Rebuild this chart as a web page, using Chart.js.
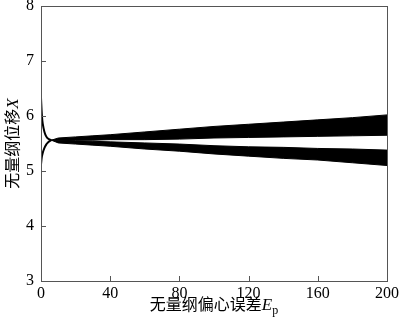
<!DOCTYPE html>
<html>
<head>
<meta charset="utf-8">
<script src="https://cdn.jsdelivr.net/npm/chart.js@4/dist/chart.umd.min.js"></script>
<style>
html,body{margin:0;padding:0;background:#fff;}
#wrap{width:400px;height:330px;}
</style>
</head>
<body>
<div id="wrap"><canvas id="c" width="400" height="330"></canvas></div>
<script>
// ---- data ----
const xTitleText = "无量纲偏心误差";
const xTitleVar = "E";
const xTitleSub = "p";
const yTitleText = "无量纲位移";
const yTitleVar = "X";

const xTicks = [0, 40, 80, 120, 160, 200];
const yTicks = [3, 4, 5, 6, 7, 8];

// initial transient branches near Ep = 0
const spikeX     = [0, 0.5, 1, 2, 3, 4, 6];
const spikeUpper = [6.33, 6.02, 5.86, 5.71, 5.63, 5.59, 5.56];
const spikeLower = [5.12, 5.26, 5.33, 5.42, 5.48, 5.52, 5.56];

// oscillation bands (outer envelope and inner gap edges)
const bandX       = [6, 10, 20, 30, 40, 60, 80, 100, 120, 140, 160, 180, 200];
const outerTop    = [5.56, 5.60, 5.62, 5.64, 5.66, 5.71, 5.76, 5.81, 5.85, 5.89, 5.93, 5.97, 6.02];
const gapTop      = [5.56, 5.56, 5.56, 5.56, 5.57, 5.57, 5.58, 5.60, 5.61, 5.62, 5.63, 5.64, 5.65];
const gapBottom   = [5.56, 5.56, 5.55, 5.54, 5.53, 5.51, 5.49, 5.46, 5.44, 5.43, 5.41, 5.40, 5.38];
const outerBottom = [5.56, 5.51, 5.49, 5.47, 5.45, 5.40, 5.36, 5.31, 5.27, 5.23, 5.20, 5.15, 5.10];

const pts = (xs, ys) => xs.map((x, i) => ({x: x, y: ys[i]}));

const serif = "'Liberation Serif','Times New Roman',serif";
const cjk = "'Noto Sans CJK SC','Noto Sans CJK JP',sans-serif";

const decor = {
  id: 'decor',
  afterDraw(chart) {
    const ctx = chart.ctx;
    const a = chart.chartArea;
    const xs = chart.scales.x, ys = chart.scales.y;
    ctx.save();
    // frame
    ctx.strokeStyle = '#555';
    ctx.lineWidth = 1;
    ctx.strokeRect(Math.round(a.left) + 0.5, Math.round(a.top) + 0.5,
                   Math.round(a.right - a.left), Math.round(a.bottom - a.top));
    // inward ticks
    ctx.beginPath();
    xTicks.forEach(v => {
      const px = Math.round(xs.getPixelForValue(v)) + 0.5;
      ctx.moveTo(px, a.bottom); ctx.lineTo(px, a.bottom - 5);
    });
    yTicks.forEach(v => {
      const py = Math.round(ys.getPixelForValue(v)) + 0.5;
      ctx.moveTo(a.left, py); ctx.lineTo(a.left + 5, py);
    });
    ctx.stroke();

    // x title
    ctx.fillStyle = '#000';
    ctx.textBaseline = 'alphabetic';
    ctx.font = "16px " + cjk;
    const w1 = ctx.measureText(xTitleText).width;
    ctx.font = "italic 17px " + serif;
    const w2 = ctx.measureText(xTitleVar).width;
    ctx.font = "12px " + serif;
    const w3 = ctx.measureText(xTitleSub).width;
    const total = w1 + w2 + w3;
    let x0 = (a.left + a.right) / 2 - total / 2;
    const yb = 310;
    ctx.textAlign = 'left';
    ctx.font = "16px " + cjk;
    ctx.fillText(xTitleText, x0, yb);
    ctx.font = "italic 17px " + serif;
    ctx.fillText(xTitleVar, x0 + w1, yb);
    ctx.font = "12px " + serif;
    ctx.fillText(xTitleSub, x0 + w1 + w2, yb + 4);

    // y title (rotated)
    ctx.translate(18, (a.top + a.bottom) / 2);
    ctx.rotate(-Math.PI / 2);
    ctx.font = "16px " + cjk;
    const v1 = ctx.measureText(yTitleText).width;
    ctx.font = "italic 17px " + serif;
    const v2 = ctx.measureText(yTitleVar).width;
    let y0 = -(v1 + v2) / 2;
    ctx.font = "16px " + cjk;
    ctx.fillText(yTitleText, y0, 0);
    ctx.font = "italic 17px " + serif;
    ctx.fillText(yTitleVar, y0 + v1, 0);
    ctx.restore();
  }
};

const band = {pointRadius: 0, borderWidth: 1, borderColor: '#000', backgroundColor: '#000', tension: 0};

new Chart(document.getElementById('c'), {
  type: 'line',
  data: {
    datasets: [
      Object.assign({label: 'outerTop', data: pts(bandX, outerTop), fill: false}, band),
      Object.assign({label: 'gapTop', data: pts(bandX, gapTop), fill: '-1'}, band),
      Object.assign({label: 'gapBottom', data: pts(bandX, gapBottom), fill: false}, band),
      Object.assign({label: 'outerBottom', data: pts(bandX, outerBottom), fill: '-1'}, band),
      {label: 'upper', data: pts(spikeX, spikeUpper), pointRadius: 0, borderWidth: 2, borderColor: '#000', fill: false, tension: 0.4},
      {label: 'lower', data: pts(spikeX, spikeLower), pointRadius: 0, borderWidth: 2, borderColor: '#000', fill: false, tension: 0.4}
    ]
  },
  options: {
    responsive: false,
    animation: false,
    layout: {padding: {left: 0, right: 13, top: 6, bottom: 0}},
    plugins: {legend: {display: false}, tooltip: {enabled: false}},
    scales: {
      x: {
        type: 'linear', min: 0, max: 200,
        afterBuildTicks: s => { s.ticks = xTicks.map(v => ({value: v})); },
        afterFit: s => { s.height = 49; s.paddingLeft = 0; s.paddingRight = 0; },
        grid: {display: false, drawTicks: false},
        border: {display: false},
        ticks: {padding: 3, color: '#000', font: {family: serif, size: 16}, maxRotation: 0}
      },
      y: {
        type: 'linear', min: 3, max: 8,
        afterBuildTicks: s => { s.ticks = yTicks.map(v => ({value: v})); },
        afterFit: s => { s.width = 41; s.paddingTop = 0; s.paddingBottom = 0; },
        grid: {display: false, drawTicks: false},
        border: {display: false},
        ticks: {padding: 7, color: '#000', font: {family: serif, size: 16}}
      }
    }
  },
  plugins: [decor]
});
</script>
</body>
</html>
